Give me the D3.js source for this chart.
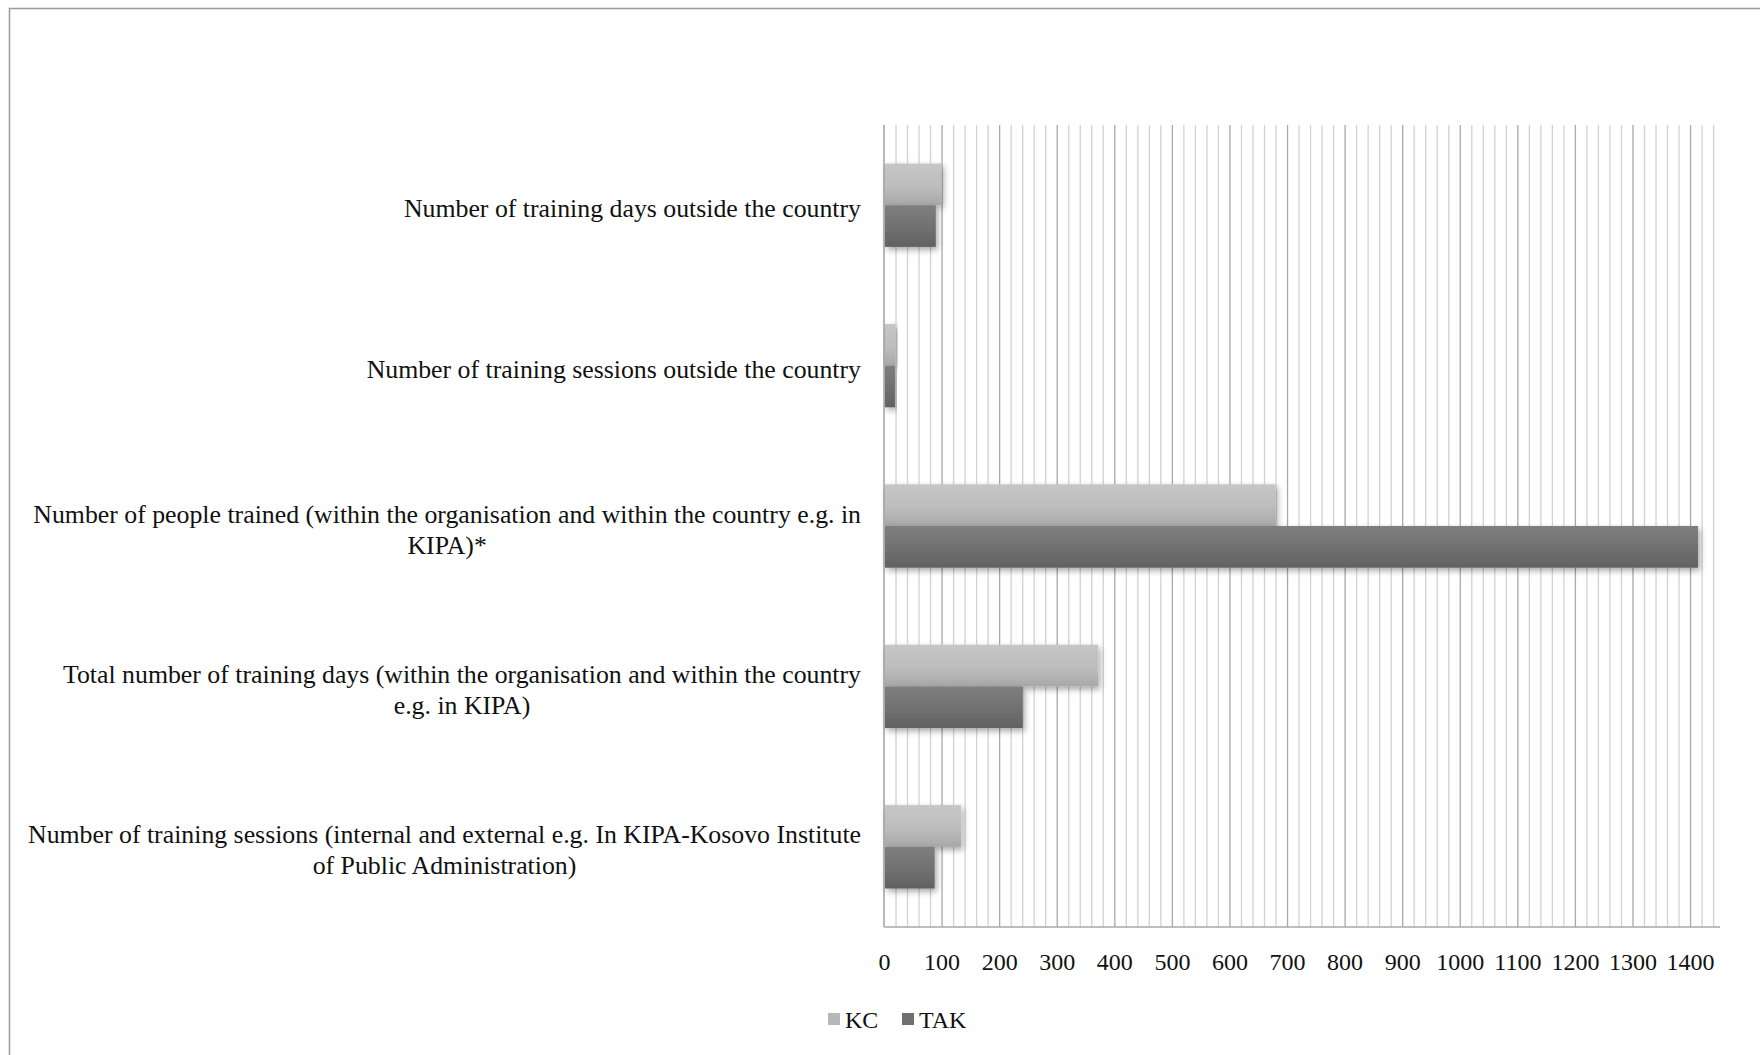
<!DOCTYPE html>
<html>
<head>
<meta charset="utf-8">
<script src="https://cdn.jsdelivr.net/npm/d3@7"></script>
<style>
  html, body { margin: 0; padding: 0; background: #fff; }
  svg { display: block; }
  text { font-family: "Liberation Serif", "Times New Roman", serif; fill: #111; }
</style>
</head>
<body>
<svg id="chart" width="1760" height="1055"></svg>
<script>
// Training activity, KC vs TAK
const categories = [
  ["Number of training days outside the country"],
  ["Number of training sessions outside the country"],
  ["Number of people trained (within the organisation and within the country e.g. in", "KIPA)*"],
  ["Total number of training days (within the organisation and within the country", "e.g. in KIPA)"],
  ["Number of training sessions (internal and external e.g. In KIPA-Kosovo Institute", "of Public Administration)"]
];
const seriesNames = ["KC", "TAK"];
const kcValues  = [100, 20, 680, 372, 134];
const takValues = [90, 19, 1414, 241, 88];
const tickValues = [0, 100, 200, 300, 400, 500, 600, 700, 800, 900, 1000, 1100, 1200, 1300, 1400];

const rows = categories.map((c, i) => ({ key: i, label: c, KC: kcValues[i], TAK: takValues[i] }));

const svg = d3.select("#chart");
const plot = { left: 884, right: 1720, top: 125, bottom: 927 };

// Outer frame
svg.append("rect")
  .attr("x", 9.5).attr("y", 8.5)
  .attr("width", 1800).attr("height", 1100)
  .attr("fill", "none").attr("stroke", "#9a9a9a").attr("stroke-width", 1.5);

const x = d3.scaleLinear().domain([0, 1452]).range([plot.left, plot.right]);
const y = d3.scaleBand().domain(rows.map(d => d.key))
  .range([plot.top, plot.bottom]).paddingInner(0.48).paddingOuter(0.24);
const ySub = d3.scaleBand().domain(seriesNames).range([0, y.bandwidth()]);

const defs = svg.append("defs");
const grads = { KC: ["#c6c6c6", "#bdbdbd", "#a8a8a8"], TAK: ["#7f7f7f", "#707070", "#616161"] };
Object.entries(grads).forEach(([k, stops]) => {
  const g = defs.append("linearGradient").attr("id", "g-" + k)
    .attr("x1", 0).attr("y1", 0).attr("x2", 0).attr("y2", 1);
  g.append("stop").attr("offset", "0%").attr("stop-color", stops[0]);
  g.append("stop").attr("offset", "55%").attr("stop-color", stops[1]);
  g.append("stop").attr("offset", "100%").attr("stop-color", stops[2]);
});
const sh = defs.append("filter").attr("id", "shadow")
  .attr("x", "-10%").attr("y", "-30%").attr("width", "130%").attr("height", "170%");
sh.append("feDropShadow").attr("dx", 2).attr("dy", 3).attr("stdDeviation", 3)
  .attr("flood-color", "#000").attr("flood-opacity", 0.35);

// Gridlines: minor every 20, major every 100
const minorTicks = d3.range(20, 1441, 20).filter(v => v % 100 !== 0);
svg.append("g").selectAll("line").data(minorTicks).join("line")
  .attr("x1", d => x(d) + 0.5).attr("x2", d => x(d) + 0.5)
  .attr("y1", plot.top).attr("y2", plot.bottom)
  .attr("stroke", "#d2d2d2").attr("stroke-width", 1.3);
svg.append("g").selectAll("line").data(tickValues.slice(1)).join("line")
  .attr("x1", d => x(d) + 0.5).attr("x2", d => x(d) + 0.5)
  .attr("y1", plot.top).attr("y2", plot.bottom)
  .attr("stroke", "#a9a9a9").attr("stroke-width", 1.3);

// Axis lines
svg.append("line").attr("x1", plot.left).attr("x2", plot.left)
  .attr("y1", plot.top).attr("y2", plot.bottom)
  .attr("stroke", "#a0a0a0").attr("stroke-width", 1.5);
svg.append("line").attr("x1", plot.left).attr("x2", plot.right)
  .attr("y1", plot.bottom).attr("y2", plot.bottom)
  .attr("stroke", "#a8a8a8").attr("stroke-width", 1.5);

// Bars
const groups = svg.append("g").selectAll("g").data(rows).join("g")
  .attr("transform", d => `translate(0,${y(d.key)})`);
groups.selectAll("rect")
  .data(d => seriesNames.map(s => ({ s, v: d[s] })))
  .join("rect")
  .attr("x", x(0) + 1)
  .attr("y", d => ySub(d.s))
  .attr("width", d => x(d.v) - x(0) - 1)
  .attr("height", ySub.bandwidth())
  .attr("fill", d => `url(#g-${d.s})`)
  .attr("filter", "url(#shadow)");

// X tick labels
const xAxis = d3.axisBottom(x).tickValues(tickValues).tickFormat(d3.format("d"))
  .tickSize(0).tickPadding(0);
const ax = svg.append("g").attr("transform", `translate(0,${plot.bottom})`).call(xAxis);
ax.select(".domain").remove();
ax.selectAll("text")
  .attr("y", 35).attr("dy", "0.35em")
  .style("font-family", "'Liberation Serif', serif")
  .style("font-size", "24px").attr("fill", "#111");

// Category labels (centered block, right-aligned to the axis)
const lineH = 31;
const labelRight = 861;
const labelSize = "25.8px";
const labels = svg.append("g");
rows.forEach(d => {
  const cy = y(d.key) + y.bandwidth() / 2;
  const n = d.label.length;
  const tmp = labels.append("text").style("font-size", labelSize);
  const widths = d.label.map(l => { tmp.text(l); return tmp.node().getComputedTextLength(); });
  tmp.remove();
  const maxW = Math.max(...widths);
  const cx = labelRight - maxW / 2;
  labels.append("text").style("font-size", labelSize).attr("text-anchor", "middle")
    .selectAll("tspan").data(d.label).join("tspan")
    .attr("x", cx)
    .attr("y", (l, i) => cy + (i - (n - 1) / 2) * lineH + 3)
    .attr("dy", "0.35em")
    .text(l => l);
});

// Legend
const legendColors = { KC: "#b8b8b8", TAK: "#6f6f6f" };
const legendPos = [{ s: "KC", x: 828 }, { s: "TAK", x: 902 }];
const lg = svg.append("g").selectAll("g").data(legendPos).join("g")
  .attr("transform", d => `translate(${d.x},1013)`);
lg.append("rect").attr("width", 12).attr("height", 12)
  .attr("fill", d => legendColors[d.s]);
lg.append("text").attr("x", 17).attr("y", 7).attr("dy", "0.35em")
  .style("font-size", "24px").text(d => d.s);
</script>
</body>
</html>
